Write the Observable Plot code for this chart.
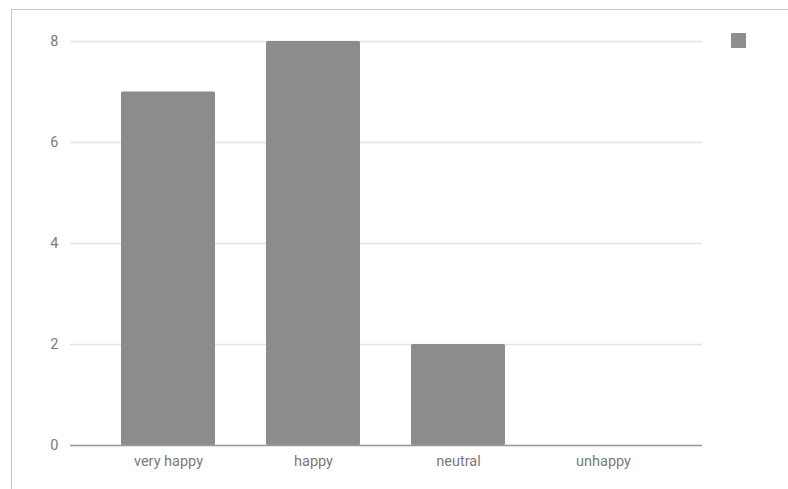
<!DOCTYPE html>
<html><head><meta charset="utf-8">
<script src="https://cdn.jsdelivr.net/npm/d3@7"></script>
<script src="https://cdn.jsdelivr.net/npm/@observablehq/plot@0.6"></script>
<style>
body{margin:0;background:#fff;font-family:Roboto,sans-serif;}
#wrap{position:relative;width:788px;height:489px;overflow:hidden;}
#frame{position:absolute;left:11px;top:9px;width:800px;height:500px;border-top:1px solid #c8c8c8;border-left:1px solid #c8c8c8;}
#chart{position:absolute;left:0;top:0;}
#legend{position:absolute;left:731px;top:33px;width:15px;height:15px;background:#8e8e8e;border-radius:1px;}
</style></head>
<body><div id="wrap"><div id="frame"></div><div id="chart"></div><div id="legend"></div></div>
<script>
const categories = ["very happy", "happy", "neutral", "unhappy"];
const values = [7, 8, 2, 0];
const yTicks = [0, 2, 4, 6, 8];
const data = categories.map((c, i) => ({category: c, value: values[i]}));

const chart = Plot.plot({
  width: 788, height: 489,
  marginLeft: 70, marginRight: 86, marginTop: 41, marginBottom: 44,
  style: {fontFamily: "Roboto, sans-serif", fontSize: "14.5px", color: "#7a7a7a", background: "transparent"},
  x: {domain: categories, padding: 0.35, label: null, tickSize: 0, tickPadding: 10},
  y: {domain: [0, 8], ticks: yTicks, label: null, tickSize: 0, tickPadding: 12},
  marks: [
    Plot.gridY(yTicks, {stroke: "#e4e4e4", strokeOpacity: 1, strokeWidth: 1.5}),
    Plot.barY(data, {x: "category", y: "value", fill: "#8c8c8c", rx: 1.5}),
    Plot.ruleY([0], {stroke: "#9a9a9a", strokeWidth: 1.5}),
    Plot.axisX({tickSize: 0, tickPadding: 10, fill: "#7a7a7a"}),
    Plot.axisY({ticks: yTicks, tickSize: 0, tickPadding: 12, fill: "#7a7a7a"})
  ]
});
document.getElementById("chart").appendChild(chart);
</script></body></html>
